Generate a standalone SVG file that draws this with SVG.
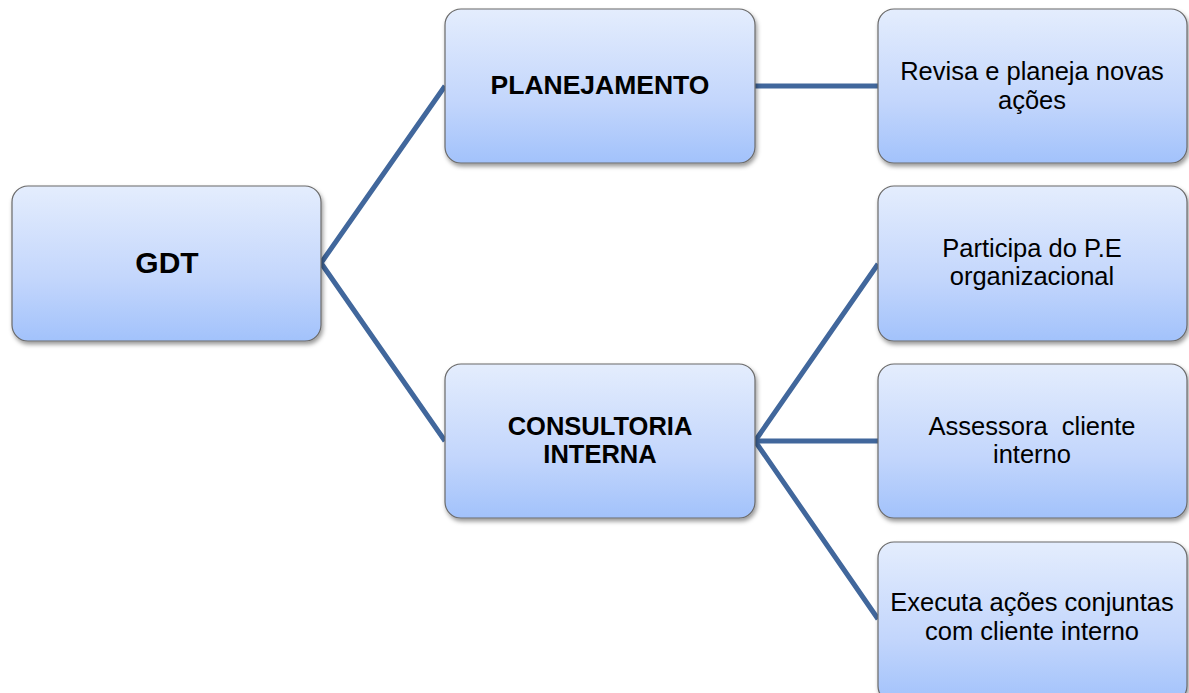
<svg xmlns="http://www.w3.org/2000/svg" width="1189" height="693" viewBox="0 0 1189 693">
  <defs>
    <linearGradient id="boxFill" x1="0" y1="0" x2="0" y2="1">
      <stop offset="0" stop-color="#e4edfd"/>
      <stop offset="0.6" stop-color="#c3d6fc"/>
      <stop offset="1" stop-color="#a2c2fb"/>
    </linearGradient>
    <filter id="shadow" x="-10%" y="-10%" width="125%" height="130%">
      <feDropShadow dx="1.5" dy="3" stdDeviation="2" flood-color="#000" flood-opacity="0.4"/>
    </filter>
  </defs>
  <style>
    .box { fill: url(#boxFill); stroke: #6a6a6a; stroke-width: 1.2; filter: url(#shadow); }
    .link { stroke: #41679c; stroke-width: 5; fill: none; stroke-linecap: butt; stroke-linejoin: miter; }
    .bold { font-family: "Liberation Sans", Arial, sans-serif; font-weight: bold; font-size: 25.5px; fill: #000; text-anchor: middle; }
    .plain { font-family: "Liberation Sans", Arial, sans-serif; font-size: 25.5px; fill: #000; text-anchor: middle; }
  </style>
  <rect width="1189" height="693" fill="#ffffff"/>

  <!-- connectors -->
  <g id="connectors">
    <polyline class="link" points="445,86 321,263 445,441"/>
    <line class="link" x1="755" y1="86" x2="878" y2="86"/>
    <line class="link" x1="755" y1="441" x2="878" y2="441"/>
    <polyline class="link" points="878,264 755,441 878,619"/>
  </g>

  <g id="gdt">
    <rect class="box" x="12" y="186" width="309" height="155" rx="16"/>
    <text class="bold" x="167" y="273" style="font-size:30px">GDT</text>
  </g>

  <g id="planejamento">
    <rect class="box" x="445" y="9" width="310" height="154" rx="16"/>
    <text class="bold" x="600" y="94" style="font-size:26.5px">PLANEJAMENTO</text>
  </g>

  <g id="consultoria">
    <rect class="box" x="445" y="364" width="310" height="154" rx="16"/>
    <text class="bold" x="600" y="435">CONSULTORIA</text>
    <text class="bold" x="600" y="463">INTERNA</text>
  </g>

  <g id="revisa">
    <rect class="box" x="878" y="9" width="309" height="154" rx="16"/>
    <text class="plain" x="1032" y="80">Revisa e planeja novas</text>
    <text class="plain" x="1032" y="109">ações</text>
  </g>

  <g id="participa">
    <rect class="box" x="878" y="186" width="309" height="155" rx="16"/>
    <text class="plain" x="1032" y="257">Participa do P.E</text>
    <text class="plain" x="1032" y="285">organizacional</text>
  </g>

  <g id="assessora">
    <rect class="box" x="878" y="364" width="309" height="154" rx="16"/>
    <text class="plain" x="1032" y="435" xml:space="preserve">Assessora  cliente</text>
    <text class="plain" x="1032" y="463">interno</text>
  </g>

  <g id="executa">
    <rect class="box" x="878" y="542" width="309" height="160" rx="16"/>
    <text class="plain" x="1032" y="611">Executa ações conjuntas</text>
    <text class="plain" x="1032" y="640">com cliente interno</text>
  </g>
</svg>
